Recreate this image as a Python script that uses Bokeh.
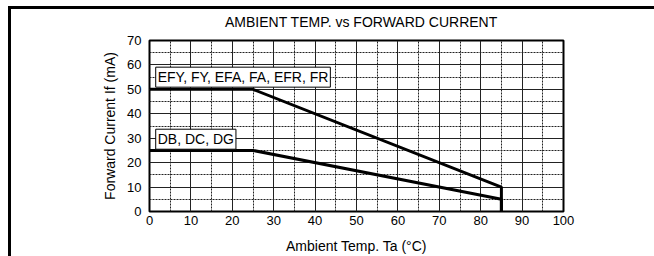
from bokeh.plotting import figure
from bokeh.models import Range1d, SingleIntervalTicker, Label, Div
from bokeh.layouts import column
from bokeh.embed import file_html
from bokeh.resources import INLINE

# data
temp_a = [0, 25, 85, 85]
curr_a = [50, 50, 10, 0]
temp_b = [0, 25, 85, 85]
curr_b = [25, 25, 5, 0]
label_a = "EFY, FY, EFA, FA, EFR, FR"
label_b = "DB, DC, DG"
title = "AMBIENT TEMP. vs FORWARD CURRENT"
xlabel = "Ambient Temp. Ta (\u00b0C)"
ylabel = "Forward Current If (mA)"

FONT = "Liberation Sans"

head = Div(text=('<div style="font-family: \'Liberation Sans\'; font-size: 14px; '
                 'line-height: 16px; padding-top: 5px; padding-left: 214px; '
                 'color: black; white-space: nowrap;">' + title + '</div>'),
           width=643, height=22, margin=0)

p = figure(width=643, height=225, output_backend="svg", toolbar_location=None,
           x_range=Range1d(0, 100), y_range=Range1d(0, 70),
           min_border_left=138, min_border_right=91, min_border_top=9, min_border_bottom=44,
           margin=0)

p.outline_line_color = "black"
p.outline_line_width = 2
p.outline_line_alpha = 1

for ax in (p.xaxis, p.yaxis):
    ax.axis_line_color = None
    ax.major_tick_line_color = None
    ax.minor_tick_line_color = None
    ax.major_tick_out = 0
    ax.major_tick_in = 0
    ax.minor_tick_out = 0
    ax.minor_tick_in = 0
    ax.major_label_text_font = FONT
    ax.major_label_text_font_size = "13px"
    ax.major_label_text_color = "black"
    ax.axis_label_text_font = FONT
    ax.axis_label_text_font_size = "14px"
    ax.axis_label_text_font_style = "normal"
    ax.axis_label_text_color = "black"

p.xaxis.ticker = SingleIntervalTicker(interval=10, num_minor_ticks=2)
p.yaxis.ticker = SingleIntervalTicker(interval=10, num_minor_ticks=2)
p.xaxis.axis_label = xlabel
p.yaxis.axis_label = ylabel
p.xaxis.major_label_standoff = 4
p.yaxis.major_label_standoff = 8
p.xaxis.axis_label_standoff = 10
p.yaxis.axis_label_standoff = 6

for g in (p.xgrid, p.ygrid):
    g.grid_line_color = "#222222"
    g.grid_line_width = 1
    g.grid_line_alpha = 1
    g.minor_grid_line_color = "#222222"
    g.minor_grid_line_width = 1
    g.minor_grid_line_dash = "2 1"

p.line(temp_a, curr_a, line_color="black", line_width=3)
p.line(temp_b, curr_b, line_color="black", line_width=3)

for txt, xx, yy in ((label_a, 1.5, 50.9), (label_b, 1.5, 25.5)):
    p.add_layout(Label(x=xx, y=yy, text=txt, text_font=FONT, text_font_size="14px",
                       text_color="black", background_fill_color="white",
                       border_line_color="black", border_line_width=1,
                       padding=2))

page = column(head, p, spacing=0)
page.styles = {"border-top": "3px solid black", "border-left": "3px solid black",
               "margin-top": "6px", "margin-left": "8px"}

open("out.html", "w").write(file_html(page, INLINE))
